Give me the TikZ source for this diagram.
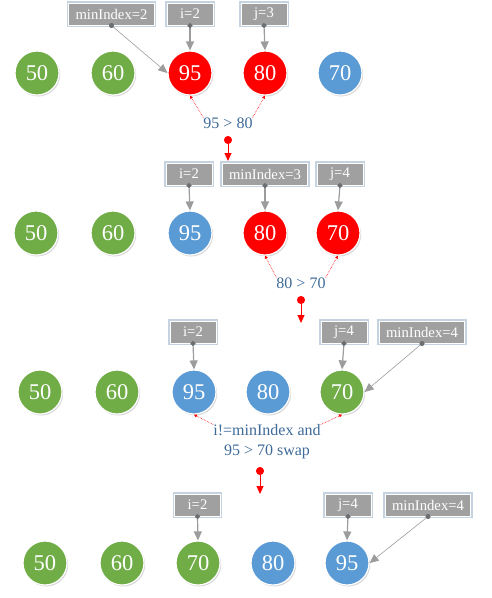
\documentclass[tikz,border=0pt]{standalone}
\usepackage{fontspec}
\setmainfont{Liberation Serif}
\usepackage{tikz}
\usetikzlibrary{arrows.meta}
\usetikzlibrary{shadows}
\usepackage{xcolor}
\definecolor{ballgreen}{HTML}{70AD47}
\definecolor{ballblue}{HTML}{5B9BD5}
\definecolor{ballred}{HTML}{FF0000}
\definecolor{tagfill}{HTML}{A0A0A0}
\definecolor{tagglow}{HTML}{C5D3E1}
\definecolor{ptrgray}{HTML}{9C9C9C}
\definecolor{ptrdot}{HTML}{6E6E6E}
\definecolor{cmpblue}{HTML}{3E6A98}
\tikzstyle{ball}=[circle,minimum size=44,inner sep=0,draw=white,line width=1.2,text=white,font=\fontsize{22.5}{26}\selectfont,drop shadow={shadow xshift=1.2pt,shadow yshift=-1.5pt,opacity=0.3}]
\tikzstyle{gball}=[ball,fill=ballgreen]
\tikzstyle{bball}=[ball,fill=ballblue]
\tikzstyle{rball}=[ball,fill=ballred]
\tikzstyle{tag}=[rectangle,fill=tagfill,draw=white,line width=1,text=white,font=\fontsize{14.7}{16}\selectfont,minimum height=22,minimum width=46,inner xsep=7,inner ysep=0,preaction={draw=tagglow,line width=3.5}]
\tikzstyle{ptr}=[draw=ptrgray,line width=1.2,{Circle[length=5pt,color=ptrdot]}-{Triangle[length=9pt,width=8pt]},shorten <=-2.5pt]
\tikzstyle{slant}=[ptr,line width=0.6]
\tikzstyle{cmp}=[draw=red,densely dotted,line width=0.6,-{Triangle[length=3pt,width=3pt]}]
\tikzstyle{nextrow}=[draw=red,line width=1,{Circle[length=8pt]}-{Triangle[length=8pt,width=7pt]}]
\tikzstyle{cmptext}=[text=cmpblue,font=\fontsize{16}{20}\selectfont,inner sep=0,align=center]

\begin{document}
\begin{tikzpicture}[x=1pt,y=-1pt]
\useasboundingbox (0,0) rectangle (491,598);

\node[gball] (a1) at (37,73) {50};
\node[gball] (a2) at (113,73) {60};
\node[rball] (a3) at (190,73) {95};
\node[rball] (a4) at (265,73) {80};
\node[bball] (a5) at (340,73) {70};
\node[tag] (amin) at (111.5,14) {minIndex=2};
\node[tag] (ai) at (190,14) {i=2};
\node[tag] (aj) at (264,14) {j=3};
\draw[slant] (amin.south) -- (a3.west);
\draw[ptr] (ai.south) -- (a3.north);
\draw[ptr] (aj.south) -- (a4.north);
\node[cmptext] (t1) at (228,123) {95 > 80};
\draw[cmp] (t1.north west) -- (a3.south);
\draw[cmp] (t1.north east) -- (a4.south);
\coordinate (s1) at (228,136);
\coordinate (e1) at (228,161);
\draw[nextrow] (s1) -- (e1);

\node[gball] (b1) at (36,233) {50};
\node[gball] (b2) at (113,233) {60};
\node[bball] (b3) at (190,233) {95};
\node[rball] (b4) at (265,233) {80};
\node[rball] (b5) at (338,233) {70};
\node[tag] (bi) at (189,174) {i=2};
\node[tag] (bmin) at (265,174) {minIndex=3};
\node[tag] (bj) at (340,174) {j=4};
\draw[ptr] (bi.south) -- (b3.north);
\draw[ptr] (bmin.south) -- (b4.north);
\draw[ptr] (bj.south) -- (b5.north);
\node[cmptext] (t2) at (301,283) {80 > 70};
\draw[cmp] (t2.north west) -- (b4.south);
\draw[cmp] (t2.north east) -- (b5.south);
\coordinate (s2) at (301,296);
\coordinate (e2) at (301,323);
\draw[nextrow] (s2) -- (e2);

\node[gball] (c1) at (40,392) {50};
\node[gball] (c2) at (117,392) {60};
\node[bball] (c3) at (194,392) {95};
\node[bball] (c4) at (268,392) {80};
\node[gball] (c5) at (342,392) {70};
\node[tag] (ci) at (193,332) {i=2};
\node[tag] (cj) at (344,332) {j=4};
\node[tag] (cmin) at (422,332) {minIndex=4};
\draw[ptr] (ci.south) -- (c3.north);
\draw[ptr] (cj.south) -- (c5.north);
\draw[slant] (cmin.south) -- (c5.east);
\node[cmptext] (t3) at (267,442) {i!=minIndex and\\95 > 70 swap};
\draw[cmp] (t3.north west) -- (c3.south);
\draw[cmp] (t3.north east) -- (c5.south);
\coordinate (s3) at (260,467);
\coordinate (e3) at (260,494);
\draw[nextrow] (s3) -- (e3);

\node[gball] (d1) at (45,563) {50};
\node[gball] (d2) at (122,563) {60};
\node[gball] (d3) at (198,563) {70};
\node[bball] (d4) at (273,563) {80};
\node[bball] (d5) at (347,563) {95};
\node[tag] (di) at (197.5,505) {i=2};
\node[tag] (dj) at (348,505) {j=4};
\node[tag] (dmin) at (428,505) {minIndex=4};
\draw[ptr] (di.south) -- (d3.north);
\draw[ptr] (dj.south) -- (d5.north);
\draw[slant] (dmin.south) -- (d5.east);
\end{tikzpicture}
\end{document}
